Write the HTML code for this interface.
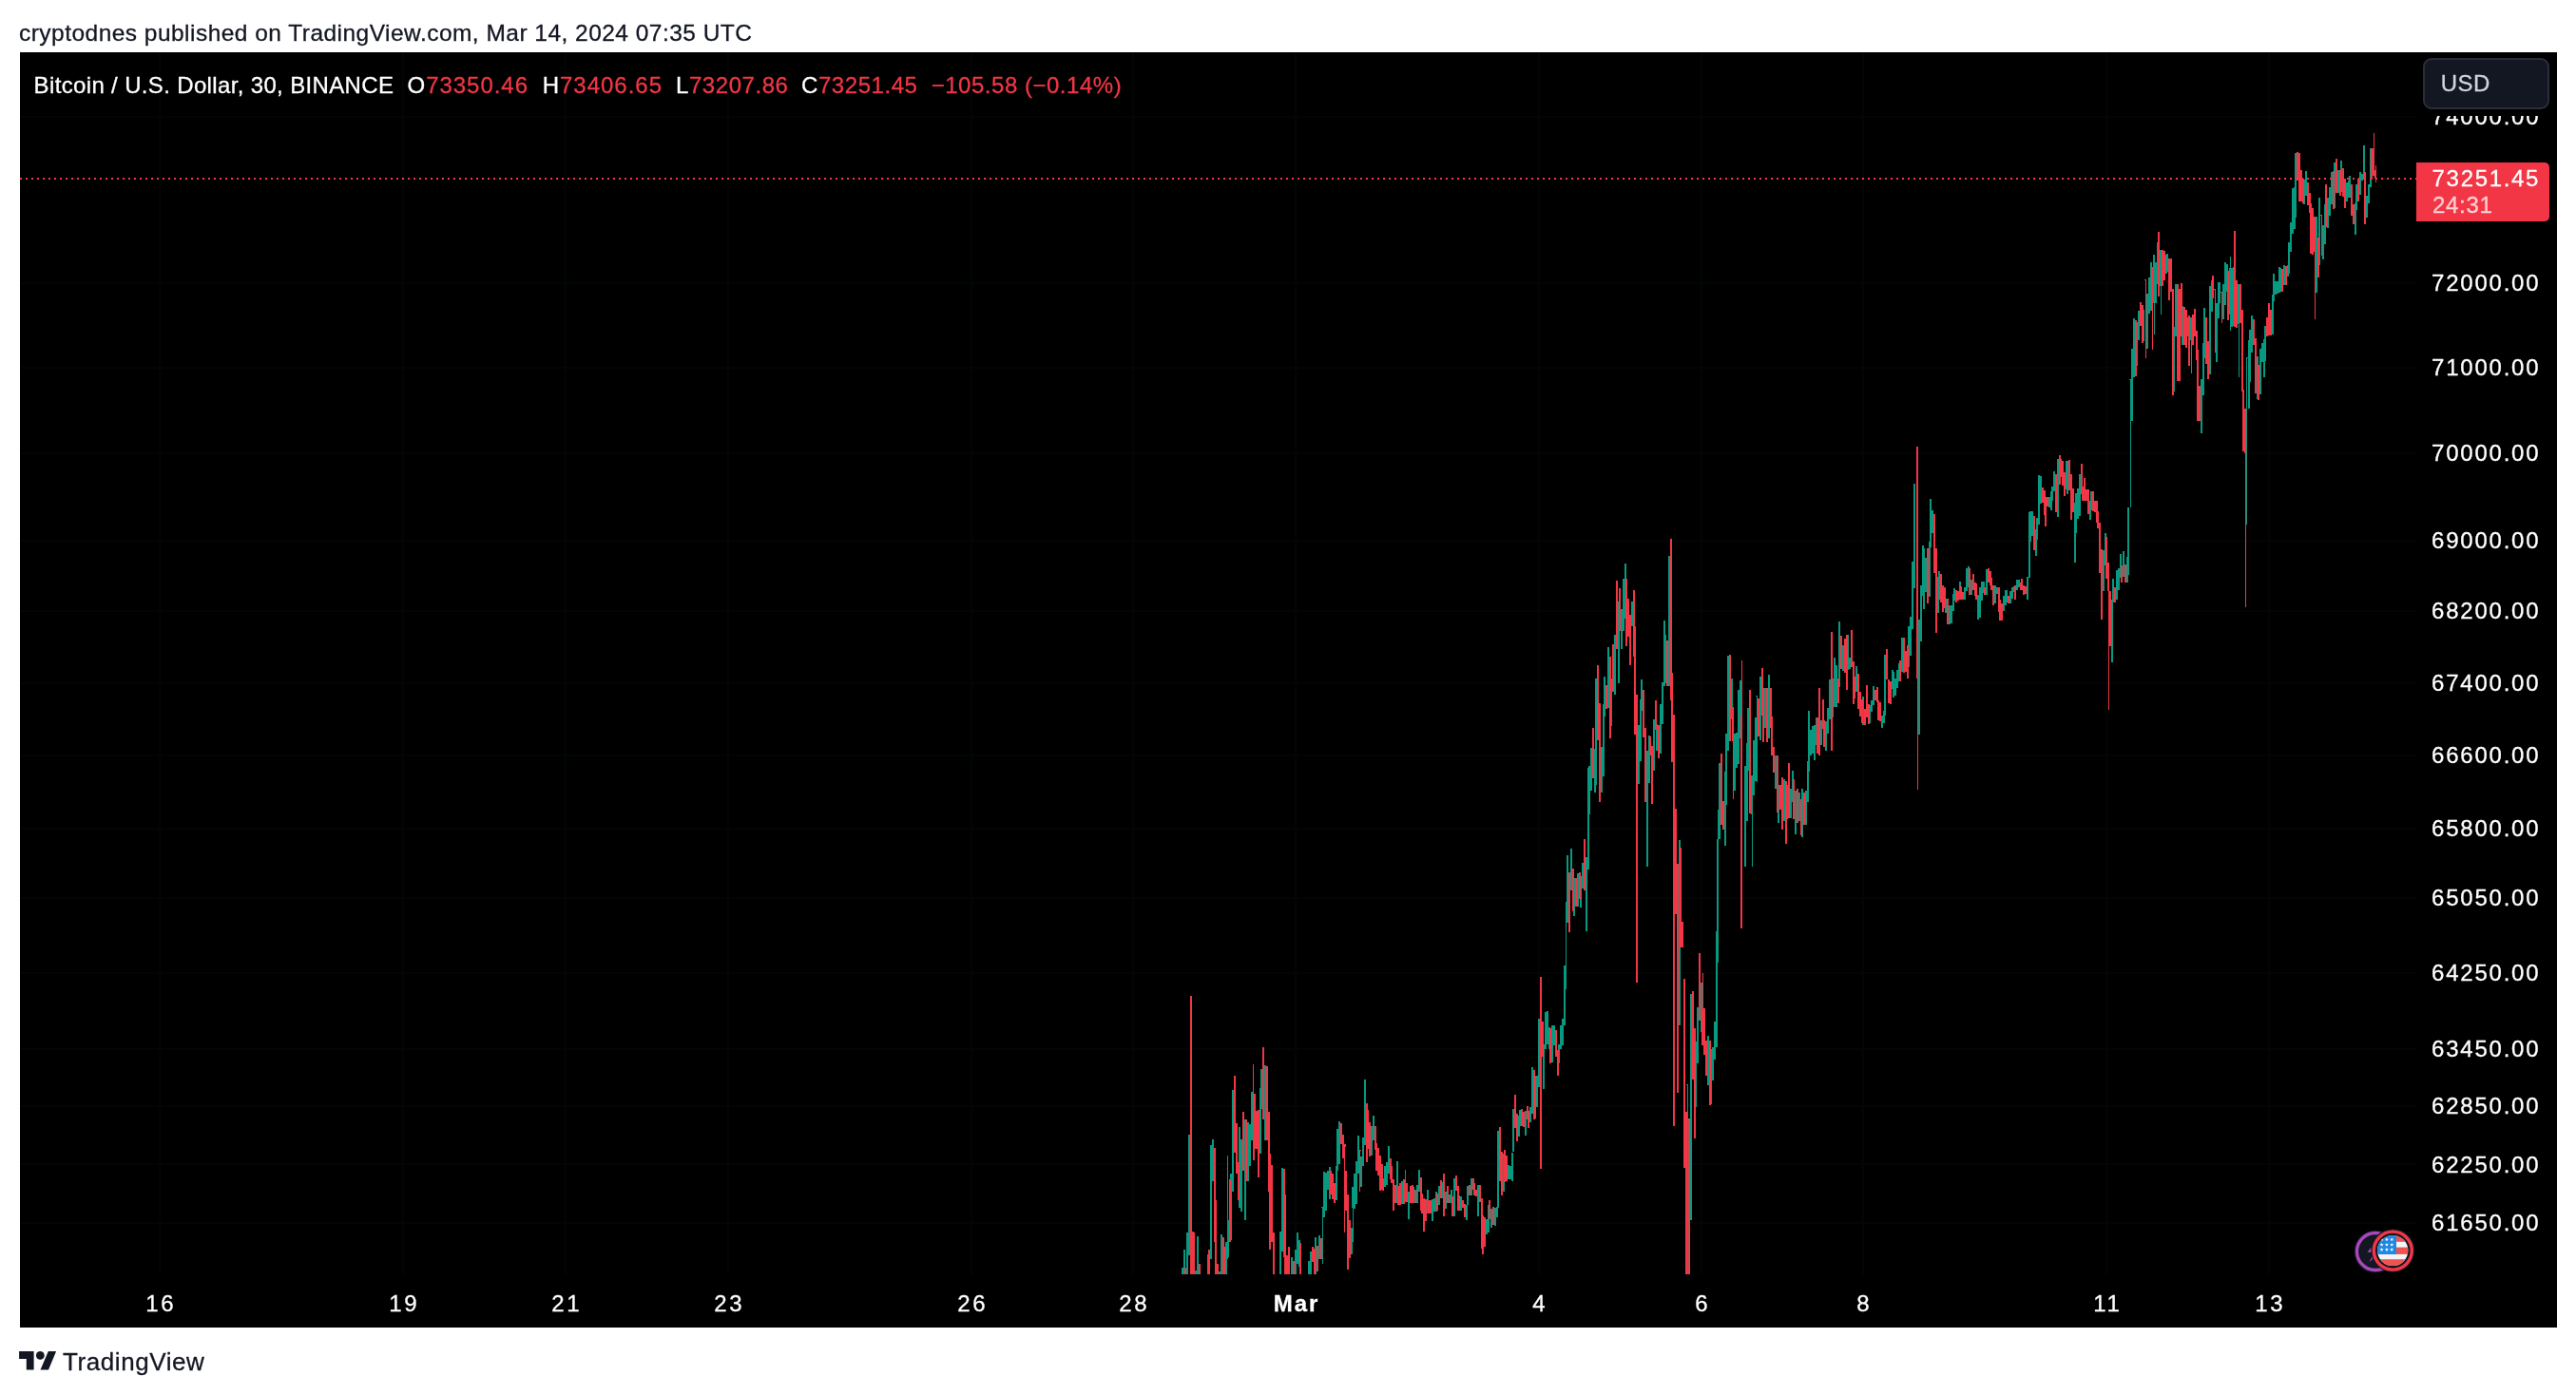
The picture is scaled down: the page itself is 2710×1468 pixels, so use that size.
<!DOCTYPE html>
<html lang="en">
<head>
<meta charset="utf-8">
<title>Bitcoin / U.S. Dollar chart</title>
<style>
html,body{margin:0;padding:0;background:#fff;}
body{width:2710px;height:1468px;position:relative;overflow:hidden;font-family:"Liberation Sans",Arial,sans-serif;color:#131722;}
.hdr,.legend,.usd,.pl,.tl,.plab,.brand{will-change:transform;-webkit-text-stroke:0.3px currentColor;}
.hdr{position:absolute;left:19.6px;top:20.4px;font-size:24.5px;line-height:30px;white-space:nowrap;color:#131722;letter-spacing:0.47px;}
.chart{position:absolute;left:20.5px;top:54.5px;width:2669px;height:1342.5px;background:#000;}
.legend{position:absolute;left:0;top:74.6px;font-size:24px;line-height:30px;white-space:nowrap;color:#fff;}
.legend span{position:absolute;top:0;}
.legend .r{color:#f23645;font-weight:normal;}
.usd{position:absolute;left:2549.4px;top:61.1px;width:129.1px;height:49.8px;border:2px solid #2a2e39;border-radius:9px;background:#131722;color:#d1d4dc;font-size:24px;line-height:50px;}
.usd span{position:absolute;left:16.8px;top:0.2px;letter-spacing:0.45px;}
.pl{position:absolute;left:2558.3px;width:112px;height:30px;line-height:30px;font-size:24px;color:#fff;letter-spacing:1.78px;white-space:nowrap;}
.tl{position:absolute;top:1357px;width:120px;height:30px;line-height:30px;text-align:center;font-size:24px;color:#fff;letter-spacing:2.6px;text-indent:2.6px;white-space:nowrap;}
.tl.b{font-weight:bold;letter-spacing:2px;text-indent:2px;}
.plab{position:absolute;left:2542px;top:171px;width:140px;height:62px;background:#f23645;border-radius:0 5px 5px 0;color:#fff;font-size:24px;}
.plab .p{position:absolute;left:16.6px;top:2.3px;line-height:30px;letter-spacing:1.68px;}
.plab .t{position:absolute;left:17px;top:30.4px;line-height:30px;letter-spacing:0.7px;color:rgba(255,255,255,0.72);}
svg.layer{position:absolute;left:0;top:0;}
.brand{position:absolute;left:65.7px;top:1416.5px;font-size:26px;line-height:32px;color:#131722;letter-spacing:0.58px;}
</style>
</head>
<body>
<div class="hdr">cryptodnes published on TradingView.com, Mar 14, 2024 07:35 UTC</div>
<div class="chart"></div>
<svg class="layer" width="2710" height="1468" viewBox="0 0 2710 1468">
<g stroke="#030505" stroke-width="2" fill="none">
<path d="M21 123H2542"/>
<path d="M21 298H2542"/>
<path d="M21 387H2542"/>
<path d="M21 477H2542"/>
<path d="M21 569H2542"/>
<path d="M21 643H2542"/>
<path d="M21 719H2542"/>
<path d="M21 795H2542"/>
<path d="M21 872H2542"/>
<path d="M21 945H2542"/>
<path d="M21 1024H2542"/>
<path d="M21 1104H2542"/>
<path d="M21 1164H2542"/>
<path d="M21 1225H2542"/>
<path d="M21 1287H2542"/>
<path d="M168 55V1341"/>
<path d="M424 55V1341"/>
<path d="M595 55V1341"/>
<path d="M766 55V1341"/>
<path d="M1022 55V1341"/>
<path d="M1192 55V1341"/>
<path d="M1363 55V1341"/>
<path d="M1619 55V1341"/>
<path d="M1790 55V1341"/>
<path d="M1960 55V1341"/>
<path d="M2216 55V1341"/>
<path d="M2387 55V1341"/>
</g>
<g shape-rendering="crispEdges">
<path d="M1243.9 1334.2V1341.0M1245.7 1314.8V1341.0M1249.2 1296.8V1341.0M1251.0 1193.5V1321.3M1258.1 1336.8V1341.0M1259.9 1300.6V1341.0M1274.1 1205.2V1325.2M1275.9 1198.7V1242.6M1283.0 1338.1V1341.0M1284.8 1299.4V1341.0M1290.1 1307.1V1341.0M1291.9 1215.5V1325.2M1295.4 1234.8V1304.5M1297.2 1147.1V1254.2M1304.3 1185.8V1271.0M1306.1 1198.7V1274.8M1309.7 1178.1V1283.9M1313.2 1180.6V1242.6M1315.0 1183.2V1227.1M1316.8 1149.2V1200.0M1325.7 1144.5V1214.2M1327.4 1125.2V1166.5M1331.0 1120.8V1200.0M1347.0 1295.5V1341.0M1348.8 1228.9V1317.4M1359.4 1322.6V1341.0M1363.0 1314.8V1341.0M1364.8 1296.8V1330.3M1366.6 1304.5V1332.9M1377.2 1326.5V1341.0M1379.0 1317.4V1341.0M1384.3 1301.9V1341.0M1387.9 1299.9V1325.2M1391.4 1269.7V1330.3M1393.2 1233.0V1281.3M1395.0 1233.5V1273.5M1396.8 1232.3V1251.6M1398.6 1228.4V1261.9M1405.7 1227.1V1263.2M1407.4 1188.4V1232.3M1409.2 1179.9V1224.5M1421.7 1291.6V1320.0M1423.4 1249.0V1307.1M1425.2 1235.4V1272.3M1427.0 1221.9V1267.1M1428.8 1194.8V1234.8M1432.3 1216.8V1249.0M1434.1 1197.4V1227.1M1435.9 1136.0V1205.2M1443.0 1184.5V1215.5M1444.8 1174.2V1200.0M1457.2 1227.1V1249.0M1459.0 1223.2V1246.5M1460.8 1205.9V1234.8M1469.7 1221.9V1265.8M1475.0 1242.6V1267.1M1478.6 1230.5V1264.5M1482.1 1254.2V1282.6M1487.4 1249.0V1265.8M1491.0 1246.5V1265.8M1492.8 1231.0V1254.2M1501.7 1251.6V1277.4M1507.0 1261.9V1285.2M1508.8 1260.6V1274.8M1510.6 1254.2V1274.8M1514.1 1247.7V1268.4M1517.7 1243.9V1260.6M1521.2 1254.2V1272.3M1524.8 1256.8V1265.8M1526.6 1251.6V1265.8M1530.1 1240.0V1280.0M1537.2 1259.4V1273.5M1542.6 1268.4V1283.9M1544.3 1247.7V1268.4M1547.9 1240.0V1258.1M1555.0 1246.5V1280.0M1563.9 1282.6V1299.4M1565.7 1268.4V1296.8M1569.2 1272.3V1291.6M1572.8 1271.0V1290.3M1574.6 1269.7V1281.3M1576.3 1189.7V1271.0M1581.7 1214.2V1254.2M1587.0 1225.8V1241.3M1588.8 1227.1V1241.3M1590.6 1212.9V1242.6M1592.3 1167.2V1211.6M1597.7 1174.2V1196.1M1599.4 1167.7V1184.5M1604.8 1169.0V1194.8M1610.1 1165.2V1180.6M1611.9 1123.4V1171.6M1617.2 1131.6V1165.2M1619.0 1072.2V1143.7M1624.3 1098.5V1146.3M1626.1 1065.0V1103.7M1627.9 1064.0V1098.5M1629.7 1080.5V1103.7M1633.2 1079.2V1117.9M1635.0 1079.2V1099.8M1640.3 1098.5V1119.2M1642.1 1079.2V1103.7M1643.9 1072.2V1099.8M1645.7 1016.0V1079.2M1647.4 948.9V1040.5M1649.2 899.8V970.8M1652.8 893.4V937.3M1656.3 924.4V964.4M1659.9 919.2V954.0M1663.4 921.8V955.3M1665.2 907.6V934.7M1668.8 902.4V979.8M1670.6 808.2V915.3M1672.3 805.6V857.3M1674.1 787.1V831.5M1677.7 787.6V834.0M1679.4 714.0V826.3M1684.8 786.3V834.0M1686.6 741.1V817.3M1688.3 712.2V754.0M1691.9 681.3V745.0M1695.4 714.0V764.4M1699.0 667.6V731.3M1702.6 632.7V719.2M1706.1 640.5V683.1M1707.9 609.0V663.7M1709.7 593.0V650.8M1716.8 632.7V658.5M1723.9 763.1V825.0M1725.7 736.0V800.5M1727.4 715.3V747.6M1732.8 790.2V912.2M1734.6 774.2V823.7M1739.9 757.4V810.8M1743.4 761.8V790.2M1747.0 741.1V792.7M1748.8 718.4V761.8M1750.6 652.9V721.8M1752.3 667.6V719.2M1755.9 585.0V721.8M1766.6 884.4V1079.2M1775.4 1141.1V1341.0M1779.0 1045.6V1283.8M1784.3 1096.0V1164.9M1786.1 1059.8V1118.7M1789.7 1034.0V1085.6M1796.8 1090.3V1141.9M1800.3 1103.7V1161.8M1802.1 1102.4V1137.3M1803.9 1075.3V1115.3M1805.7 979.8V1102.4M1807.4 852.1V1013.4M1809.2 803.1V883.1M1814.6 812.1V889.5M1816.3 772.1V846.9M1818.1 690.0V790.2M1821.7 714.0V756.6M1825.2 772.1V831.5M1827.0 770.8V808.2M1828.8 725.6V804.4M1830.6 715.8V777.3M1835.9 805.6V911.5M1837.7 782.4V863.7M1839.4 745.0V810.8M1843.0 816.0V911.5M1844.8 778.5V836.6M1846.6 755.3V822.4M1848.3 732.1V822.9M1851.9 712.2V779.3M1857.2 724.4V765.6M1860.8 710.2V777.3M1867.9 795.3V830.2M1871.4 826.3V866.3M1876.8 819.8V863.7M1880.3 826.3V862.4M1883.9 830.2V861.1M1885.7 810.8V844.4M1889.2 831.5V877.9M1892.8 834.0V863.7M1896.3 830.2V880.5M1899.9 831.5V867.6M1901.7 800.5V844.4M1903.4 748.4V812.1M1905.2 768.2V795.3M1907.0 764.4V792.7M1908.8 763.1V800.0M1910.6 755.3V783.7M1915.9 757.9V783.7M1921.2 759.2V790.2M1923.0 745.0V772.1M1924.8 714.8V756.6M1928.3 714.0V755.3M1930.1 691.6V743.7M1931.9 699.8V743.7M1935.4 653.9V722.5M1939.0 679.2V706.3M1944.3 667.6V705.0M1946.1 692.1V703.7M1953.2 701.1V728.2M1960.3 733.4V763.1M1967.4 742.4V760.5M1969.2 737.3V748.9M1971.0 721.8V742.4M1979.9 752.7V766.4M1981.7 747.6V760.5M1983.4 689.0V752.7M1990.6 704.5V725.2M1992.3 707.1V734.2M1994.1 713.5V731.6M1995.9 704.5V723.9M1997.7 698.1V717.4M2001.2 671.0V707.1M2008.3 659.4V701.9M2010.1 649.0V690.3M2011.9 591.0V661.9M2013.7 509.2V619.4M2019.0 651.6V772.9M2020.8 615.5V674.8M2022.6 574.2V627.1M2024.3 576.8V641.3M2026.1 587.1V623.2M2029.7 570.3V628.4M2031.4 524.6V575.5M2033.2 536.8V561.3M2038.6 606.5V645.2M2040.3 601.3V631.0M2047.4 629.7V645.2M2051.0 637.4V656.8M2052.8 637.4V655.5M2054.6 624.5V642.6M2056.3 619.4V632.3M2061.7 612.4V631.0M2067.0 618.1V631.0M2068.8 597.9V621.9M2070.6 596.1V618.1M2074.1 610.3V625.8M2081.2 625.8V651.6M2083.0 618.1V650.3M2084.8 611.6V632.3M2086.6 612.4V623.7M2090.1 598.7V625.8M2099.0 615.5V634.8M2100.8 618.1V624.5M2107.9 627.1V642.6M2109.7 620.6V637.4M2111.4 620.6V633.5M2115.0 621.9V634.8M2116.8 618.1V629.7M2118.6 616.8V623.2M2122.1 610.3V620.6M2123.9 610.3V618.1M2132.8 606.5V631.0M2134.6 539.4V607.7M2136.3 538.1V570.3M2138.1 538.1V563.9M2141.7 557.4V584.5M2143.4 544.5V567.7M2145.2 499.9V552.3M2147.0 500.6V530.3M2155.9 522.6V534.2M2157.7 517.4V536.8M2159.4 512.3V526.5M2161.2 495.5V517.4M2164.8 482.6V543.7M2173.7 485.2V514.8M2175.4 485.2V520.0M2182.6 529.0V591.7M2184.3 518.7V561.3M2186.1 513.5V545.8M2187.9 499.4V543.2M2198.6 526.5V547.1M2200.3 517.4V536.8M2212.8 579.4V621.9M2214.6 561.3V594.8M2221.7 631.0V696.8M2223.4 609.0V633.5M2227.0 600.0V631.0M2228.8 597.9V620.6M2230.6 583.2V607.7M2234.1 580.1V606.5M2237.7 585.8V612.9M2239.4 534.2V605.2M2241.2 399.4V534.1M2243.0 367.1V443.2M2244.8 334.8V396.8M2248.3 338.7V385.2M2250.1 327.1V358.1M2255.4 325.8V359.4M2259.0 309.0V367.1M2260.8 292.3V329.7M2262.6 275.5V327.1M2266.1 267.7V351.6M2267.9 275.5V319.4M2269.7 254.8V298.7M2273.2 262.6V331.0M2278.6 267.7V288.4M2280.3 267.2V285.8M2287.4 343.9V412.3M2289.2 298.7V354.2M2296.3 321.9V363.2M2305.2 333.5V392.9M2315.9 399.4V456.1M2317.7 360.6V416.1M2319.4 324.0V377.4M2324.8 301.3V394.2M2326.6 294.8V328.4M2331.9 319.4V381.3M2333.7 296.6V334.8M2335.4 297.4V319.4M2339.0 298.7V336.1M2340.8 276.0V320.6M2342.6 278.1V306.5M2346.1 270.3V347.7M2347.9 281.9V343.9M2349.7 280.6V342.6M2355.0 298.7V396.8M2363.9 376.1V552.1M2365.7 358.1V430.3M2367.4 346.5V401.9M2369.2 332.3V371.0M2374.6 374.8V420.0M2378.1 367.1V414.8M2379.9 360.6V381.3M2381.7 356.8V396.8M2383.4 342.6V380.0M2390.6 310.3V351.6M2392.3 288.4V316.8M2394.1 296.1V310.3M2395.9 296.1V309.0M2397.7 280.6V307.7M2399.4 281.9V306.5M2403.0 279.4V300.0M2406.6 279.4V291.0M2408.3 254.8V288.4M2410.1 234.2V265.2M2411.9 197.5V245.8M2413.7 196.8V240.6M2415.4 161.2V229.0M2424.3 189.0V214.8M2426.1 180.0V205.8M2436.8 227.5V307.5M2440.3 207.9V279.4M2443.9 236.5V272.6M2445.7 214.6V256.6M2449.2 208.1V240.4M2451.0 196.8V226.5M2452.8 180.5V214.8M2456.3 171.0V218.7M2459.9 178.7V203.2M2463.4 169.2V201.9M2468.8 191.6V212.3M2470.6 190.3V208.4M2472.3 185.2V208.4M2477.7 213.5V246.6M2479.4 194.2V221.3M2483.0 181.3V204.5M2484.8 182.6V190.3M2486.6 152.9V189.0M2490.1 205.8V229.0M2491.9 194.2V213.5M2493.7 156.3V196.8" stroke="#089981" stroke-width="1" fill="none"/>
<path d="M1247.4 1334.2V1341.0M1252.8 1047.7V1341.0M1254.6 1295.5V1341.0M1256.3 1296.8V1341.0M1261.7 1330.3V1341.0M1270.6 1320.0V1341.0M1272.3 1314.8V1341.0M1277.7 1207.7V1307.1M1279.4 1263.2V1341.0M1281.2 1330.3V1341.0M1286.6 1301.9V1341.0M1288.3 1312.3V1341.0M1293.7 1241.3V1307.1M1299.0 1131.6V1212.9M1300.8 1181.9V1234.8M1302.6 1223.2V1263.2M1307.9 1170.3V1232.3M1311.4 1178.1V1242.6M1318.6 1120.0V1220.6M1320.3 1151.0V1209.0M1322.1 1169.0V1209.0M1323.9 1167.7V1238.7M1329.2 1101.9V1178.1M1332.8 1121.8V1200.0M1334.6 1170.3V1254.2M1336.3 1214.2V1314.8M1338.1 1225.8V1307.1M1339.9 1296.8V1341.0M1350.6 1229.7V1322.6M1352.3 1256.8V1341.0M1354.1 1321.3V1341.0M1355.9 1312.3V1341.0M1361.2 1326.5V1341.0M1368.3 1308.4V1341.0M1380.8 1312.3V1327.7M1382.6 1313.5V1341.0M1386.1 1311.0V1338.1M1389.7 1303.2V1325.2M1400.3 1232.3V1256.8M1402.1 1235.4V1261.9M1403.9 1245.2V1265.8M1411.0 1181.9V1203.9M1412.8 1193.5V1219.4M1414.6 1203.9V1296.8M1416.3 1232.3V1273.5M1418.1 1256.8V1335.5M1419.9 1283.9V1323.9M1430.6 1210.3V1254.2M1437.7 1161.3V1223.2M1439.4 1167.7V1209.0M1441.2 1180.6V1216.8M1446.6 1184.5V1210.3M1448.3 1202.6V1232.3M1450.1 1207.7V1237.4M1451.9 1215.5V1252.9M1453.7 1224.5V1251.6M1455.4 1240.0V1252.9M1462.6 1219.4V1241.3M1464.3 1227.1V1245.2M1466.1 1241.3V1273.5M1467.9 1246.5V1265.8M1471.4 1247.7V1268.4M1473.2 1245.2V1268.4M1476.8 1241.3V1267.1M1480.3 1245.2V1264.5M1483.9 1247.7V1265.8M1485.7 1246.5V1265.8M1489.2 1251.6V1265.8M1494.6 1238.7V1273.5M1496.3 1255.5V1277.4M1498.1 1260.6V1295.5M1499.9 1261.9V1285.2M1503.4 1263.2V1277.4M1505.2 1263.2V1277.4M1512.3 1255.5V1273.5M1515.9 1241.8V1260.6M1519.4 1234.8V1280.0M1523.0 1247.7V1265.8M1528.3 1259.4V1280.0M1531.9 1237.4V1252.9M1533.7 1247.7V1273.5M1535.4 1258.1V1273.5M1539.0 1263.2V1271.0M1540.8 1267.1V1281.3M1546.1 1246.5V1258.1M1549.7 1240.0V1251.6M1551.4 1245.2V1258.1M1553.2 1251.6V1259.4M1556.8 1246.5V1264.5M1558.6 1260.6V1313.5M1560.3 1278.7V1320.0M1562.1 1281.3V1312.3M1567.4 1263.2V1282.6M1571.0 1269.7V1289.0M1578.1 1185.8V1242.6M1579.9 1211.6V1258.1M1583.4 1210.3V1243.9M1585.2 1215.5V1242.6M1594.1 1152.3V1187.1M1595.9 1171.6V1201.3M1601.2 1167.2V1184.5M1603.0 1170.3V1185.8M1606.6 1163.9V1178.1M1608.3 1169.0V1187.1M1613.7 1125.9V1178.1M1615.4 1131.6V1176.8M1620.8 1028.4V1230.2M1622.6 1075.3V1111.5M1631.4 1081.8V1119.2M1636.8 1084.4V1111.5M1638.6 1105.0V1131.6M1651.0 917.9V981.1M1654.6 914.0V959.2M1658.1 924.4V954.0M1661.7 917.9V946.3M1667.0 883.1V937.3M1675.9 766.2V818.5M1681.2 700.4V778.5M1683.0 739.8V843.8M1690.1 720.5V746.3M1693.7 690.8V776.7M1697.2 678.4V728.2M1700.8 611.1V683.1M1704.3 619.1V663.7M1711.4 609.0V679.7M1713.2 630.2V670.2M1715.0 646.9V699.8M1718.6 621.1V690.8M1720.3 658.5V773.4M1722.1 730.8V1033.5M1729.2 726.2V776.0M1731.0 765.6V843.8M1736.3 774.7V795.3M1738.1 785.0V845.6M1741.7 737.3V768.2M1745.2 763.1V798.4M1754.1 674.0V721.8M1757.7 566.9V736.5M1759.4 708.1V801.8M1761.2 752.0V1184.5M1763.0 850.8V961.8M1764.8 908.9V1150.2M1768.3 892.1V996.9M1770.1 969.5V996.9M1771.9 1030.2V1228.9M1773.7 1169.5V1341.0M1777.2 1177.3V1341.0M1780.8 1043.1V1136.0M1782.6 1081.8V1197.9M1787.9 1003.1V1074.0M1791.4 1023.7V1099.8M1793.2 1061.1V1110.2M1795.0 1094.7V1132.1M1798.6 1094.7V1163.1M1811.0 792.7V867.6M1812.8 843.1V872.7M1819.9 689.0V779.8M1823.4 743.7V840.5M1832.3 694.7V977.3M1841.2 726.2V856.0M1850.1 734.7V774.7M1853.7 702.9V752.7M1855.4 724.4V781.1M1859.0 724.4V781.1M1862.6 723.8V765.6M1864.3 754.0V795.3M1866.1 786.3V812.9M1869.7 795.3V854.7M1873.2 825.8V852.1M1875.0 818.0V872.7M1878.6 822.4V887.7M1882.1 803.1V861.1M1887.4 819.8V861.9M1891.0 830.2V865.5M1894.6 840.5V879.2M1898.1 834.0V867.6M1912.3 755.3V792.7M1914.1 724.4V795.3M1917.7 736.0V766.9M1919.4 757.9V786.3M1926.6 665.0V790.2M1933.7 714.0V739.8M1937.2 668.9V703.7M1940.8 671.5V707.6M1942.6 667.6V725.6M1947.9 663.2V702.4M1949.7 696.0V741.1M1951.4 711.5V734.7M1955.0 708.9V746.3M1956.8 728.2V754.0M1958.6 736.0V760.5M1962.1 746.3V763.1M1963.9 721.3V755.3M1965.7 741.1V761.8M1972.8 725.6V737.3M1974.6 723.1V738.5M1976.3 737.3V757.9M1978.1 738.5V759.2M1985.2 683.1V715.3M1987.0 715.3V739.8M1988.8 717.4V740.6M1999.4 695.0V717.4M2003.0 671.0V708.4M2004.8 685.2V707.1M2006.6 678.7V713.5M2017.2 470.2V831.0M2027.9 576.8V634.8M2035.0 541.2V602.6M2036.8 576.8V665.8M2042.1 603.9V633.5M2043.9 615.5V643.9M2045.7 618.1V640.0M2049.2 629.7V656.8M2058.1 620.6V633.5M2059.9 621.9V632.3M2063.4 616.8V630.5M2065.2 623.2V631.0M2072.3 597.9V625.8M2075.9 603.9V620.6M2077.7 612.9V627.1M2079.4 614.2V631.0M2088.3 618.1V625.8M2091.9 597.9V612.9M2093.7 601.3V615.5M2095.4 607.7V620.6M2097.2 615.5V637.4M2102.6 618.1V643.9M2104.3 631.0V652.9M2106.1 634.8V652.9M2113.2 627.1V634.8M2120.3 615.5V631.0M2125.7 612.9V620.6M2127.4 609.0V620.6M2129.2 615.5V625.8M2131.0 616.8V624.5M2139.9 543.2V579.4M2148.8 513.0V529.0M2150.6 516.1V541.9M2152.3 522.6V553.5M2154.1 522.6V532.9M2163.0 499.4V539.4M2166.6 478.7V509.7M2168.3 482.6V501.9M2170.1 485.2V511.0M2171.9 496.8V522.1M2177.2 483.9V516.1M2179.0 499.4V547.1M2180.8 513.5V539.4M2189.7 487.7V520.0M2191.4 512.3V526.5M2193.2 503.2V526.5M2195.0 514.8V526.5M2196.8 514.8V540.6M2202.1 517.4V538.1M2203.9 526.5V539.4M2205.7 526.5V549.7M2207.4 538.1V556.1M2209.2 549.7V602.6M2211.0 578.1V651.6M2216.3 565.2V609.0M2218.1 592.3V747.1M2219.9 621.9V680.0M2225.2 618.1V633.5M2232.3 594.8V612.9M2235.9 593.5V612.9M2246.6 337.4V395.5M2251.9 318.1V342.6M2253.7 320.6V360.6M2257.2 293.5V377.4M2264.3 280.6V368.4M2271.4 244.0V311.6M2275.0 263.1V301.3M2276.8 263.9V294.8M2282.1 271.6V315.5M2283.9 271.6V306.5M2285.7 303.9V416.1M2291.0 298.7V400.6M2292.8 303.9V400.6M2294.6 298.2V354.2M2298.1 323.2V363.2M2299.9 325.8V365.8M2301.7 333.5V354.2M2303.4 332.3V385.2M2307.0 331.0V363.2M2308.8 325.0V354.2M2310.6 347.7V378.7M2312.3 368.4V443.2M2314.1 405.8V443.2M2321.2 333.5V382.6M2323.0 359.4V399.4M2328.3 289.7V314.2M2330.1 303.9V371.0M2337.2 306.5V340.0M2344.3 284.5V337.4M2351.4 243.2V343.9M2353.2 294.8V345.2M2356.8 298.7V340.0M2358.6 325.8V412.3M2360.3 409.7V474.7M2362.1 430.3V638.6M2371.0 336.1V363.2M2372.8 355.5V413.5M2376.3 383.9V421.3M2385.2 333.5V354.2M2387.0 319.4V352.9M2388.8 325.8V352.9M2401.2 283.2V306.5M2404.8 280.1V300.0M2417.2 159.9V190.3M2419.0 160.6V212.3M2420.8 178.7V212.3M2422.6 187.7V213.5M2427.9 191.6V216.1M2429.7 203.2V223.9M2431.4 213.5V266.5M2433.2 218.7V267.7M2435.0 227.7V336.1M2438.6 249.7V292.3M2442.1 225.9V268.8M2447.4 193.7V238.8M2454.6 180.0V220.0M2458.1 167.1V203.2M2461.7 178.7V205.8M2465.2 177.4V207.1M2467.0 187.7V218.7M2474.1 194.2V226.5M2475.9 214.8V235.5M2481.2 187.7V212.3M2488.3 181.3V235.5M2495.4 155.5V189.0M2497.2 140.0V185.2M2499.0 174.3V191.6" stroke="#f23645" stroke-width="1" fill="none"/>
<path d="M1243.9 1334.2V1341.0M1245.7 1314.8V1341.0M1249.2 1296.8V1341.0M1251.0 1193.5V1321.3M1258.1 1336.8V1341.0M1259.9 1300.6V1341.0M1274.1 1205.2V1325.2M1275.9 1198.7V1242.6M1283.0 1338.1V1341.0M1284.8 1299.4V1341.0M1290.1 1307.1V1341.0M1291.9 1283.9V1322.6M1295.4 1234.8V1304.5M1297.2 1147.1V1254.2M1304.3 1185.8V1271.0M1306.1 1198.7V1274.8M1309.7 1178.1V1283.9M1313.2 1180.6V1242.6M1315.0 1183.2V1227.1M1316.8 1149.2V1200.0M1325.7 1144.5V1214.2M1327.4 1125.2V1166.5M1331.0 1120.8V1200.0M1347.0 1295.5V1341.0M1348.8 1228.9V1317.4M1359.4 1322.6V1341.0M1363.0 1314.8V1341.0M1364.8 1296.8V1330.3M1366.6 1304.5V1332.9M1377.2 1326.5V1341.0M1379.0 1317.4V1341.0M1384.3 1301.9V1341.0M1387.9 1299.9V1325.2M1391.4 1269.7V1270.7M1393.2 1233.0V1281.3M1395.0 1233.5V1273.5M1396.8 1232.3V1251.6M1398.6 1228.4V1261.9M1405.7 1227.1V1263.2M1407.4 1188.4V1232.3M1409.2 1179.9V1224.5M1421.7 1291.6V1320.0M1423.4 1249.0V1271.0M1425.2 1235.4V1272.3M1427.0 1221.9V1267.1M1428.8 1194.8V1234.8M1432.3 1216.8V1249.0M1434.1 1197.4V1227.1M1435.9 1136.0V1205.2M1443.0 1184.5V1215.5M1444.8 1174.2V1200.0M1457.2 1227.1V1249.0M1459.0 1223.2V1246.5M1460.8 1205.9V1234.8M1469.7 1221.9V1265.8M1475.0 1242.6V1267.1M1478.6 1247.7V1264.5M1482.1 1254.2V1282.6M1487.4 1249.0V1265.8M1491.0 1246.5V1265.8M1492.8 1231.0V1254.2M1501.7 1251.6V1277.4M1507.0 1261.9V1285.2M1508.8 1260.6V1274.8M1510.6 1254.2V1274.8M1514.1 1247.7V1268.4M1517.7 1243.9V1260.6M1521.2 1254.2V1272.3M1524.8 1256.8V1265.8M1526.6 1251.6V1265.8M1530.1 1240.0V1280.0M1537.2 1259.4V1273.5M1542.6 1268.4V1283.9M1544.3 1247.7V1268.4M1547.9 1240.0V1258.1M1555.0 1246.5V1280.0M1563.9 1282.6V1299.4M1565.7 1268.4V1296.8M1569.2 1272.3V1291.6M1572.8 1271.0V1290.3M1574.6 1269.7V1281.3M1576.3 1189.7V1271.0M1581.7 1214.2V1254.2M1587.0 1225.8V1241.3M1588.8 1227.1V1241.3M1590.6 1212.9V1242.6M1592.3 1167.2V1211.6M1597.7 1174.2V1196.1M1599.4 1167.7V1184.5M1604.8 1169.0V1194.8M1610.1 1165.2V1180.6M1611.9 1123.4V1171.6M1617.2 1131.6V1165.2M1619.0 1072.2V1143.7M1624.3 1098.5V1146.3M1626.1 1065.0V1103.7M1627.9 1064.0V1098.5M1629.7 1080.5V1103.7M1633.2 1079.2V1117.9M1635.0 1079.2V1099.8M1640.3 1098.5V1119.2M1642.1 1079.2V1103.7M1643.9 1072.2V1099.8M1645.7 1016.0V1079.2M1647.4 1016.0V1040.5M1649.2 899.8V970.8M1652.8 893.4V937.3M1656.3 924.4V964.4M1659.9 919.2V954.0M1663.4 921.8V955.3M1665.2 907.6V934.7M1668.8 902.4V979.8M1670.6 808.2V915.3M1672.3 805.6V857.3M1674.1 787.1V831.5M1677.7 787.6V834.0M1679.4 714.0V826.3M1684.8 786.3V834.0M1686.6 741.1V817.3M1688.3 712.2V754.0M1691.9 681.3V745.0M1695.4 714.0V764.4M1699.0 667.6V731.3M1702.6 632.7V719.2M1706.1 640.5V683.1M1707.9 609.0V663.7M1709.7 593.0V650.8M1716.8 632.7V658.5M1723.9 763.1V825.0M1725.7 736.0V800.5M1727.4 715.3V747.6M1732.8 790.2V912.2M1734.6 774.2V823.7M1739.9 757.4V810.8M1743.4 761.8V790.2M1747.0 741.1V792.7M1748.8 718.4V761.8M1750.6 652.9V721.8M1752.3 667.6V719.2M1755.9 585.0V721.8M1766.6 884.4V1079.2M1775.4 1141.1V1142.1M1779.0 1045.6V1283.8M1784.3 1096.0V1097.0M1786.1 1059.8V1118.7M1789.7 1034.0V1085.6M1796.8 1090.3V1141.9M1800.3 1103.7V1161.8M1802.1 1102.4V1137.3M1803.9 1075.3V1115.3M1805.7 979.8V1102.4M1807.4 883.1V1013.4M1809.2 803.1V883.1M1814.6 812.1V889.5M1816.3 772.1V846.9M1818.1 690.0V790.2M1821.7 714.0V756.6M1825.2 772.1V831.5M1827.0 770.8V808.2M1828.8 725.6V804.4M1830.6 715.8V777.3M1835.9 805.6V911.5M1837.7 782.4V863.7M1839.4 745.0V810.8M1843.0 816.0V857.3M1844.8 778.5V836.6M1846.6 755.3V822.4M1848.3 732.1V733.1M1851.9 712.2V779.3M1857.2 724.4V765.6M1860.8 710.2V777.3M1867.9 795.3V830.2M1871.4 826.3V866.3M1876.8 819.8V863.7M1880.3 826.3V862.4M1883.9 830.2V861.1M1885.7 810.8V844.4M1889.2 831.5V877.9M1892.8 834.0V863.7M1896.3 830.2V880.5M1899.9 831.5V867.6M1901.7 800.5V844.4M1903.4 748.4V812.1M1905.2 768.2V795.3M1907.0 764.4V792.7M1908.8 763.1V800.0M1910.6 755.3V783.7M1915.9 757.9V783.7M1921.2 759.2V790.2M1923.0 745.0V772.1M1924.8 714.8V756.6M1928.3 714.0V755.3M1930.1 691.6V743.7M1931.9 699.8V743.7M1935.4 653.9V722.5M1939.0 679.2V706.3M1944.3 667.6V705.0M1946.1 692.1V703.7M1953.2 701.1V728.2M1960.3 733.4V763.1M1967.4 742.4V760.5M1969.2 737.3V748.9M1971.0 721.8V742.4M1979.9 752.7V766.4M1981.7 747.6V760.5M1983.4 689.0V752.7M1990.6 704.5V725.2M1992.3 707.1V734.2M1994.1 713.5V731.6M1995.9 704.5V723.9M1997.7 698.1V717.4M2001.2 671.0V707.1M2008.3 659.4V701.9M2010.1 649.0V690.3M2011.9 591.0V661.9M2013.7 509.2V619.4M2019.0 651.6V772.9M2020.8 615.5V674.8M2022.6 574.2V627.1M2024.3 576.8V641.3M2026.1 587.1V623.2M2029.7 570.3V628.4M2031.4 524.6V575.5M2033.2 536.8V561.3M2038.6 606.5V645.2M2040.3 601.3V631.0M2047.4 629.7V645.2M2051.0 637.4V656.8M2052.8 637.4V655.5M2054.6 624.5V642.6M2056.3 619.4V632.3M2061.7 612.4V631.0M2067.0 618.1V631.0M2068.8 597.9V621.9M2070.6 596.1V618.1M2074.1 610.3V625.8M2081.2 625.8V651.6M2083.0 618.1V650.3M2084.8 611.6V632.3M2086.6 612.4V623.7M2090.1 598.7V625.8M2099.0 615.5V634.8M2100.8 618.1V624.5M2107.9 627.1V642.6M2109.7 620.6V637.4M2111.4 620.6V633.5M2115.0 621.9V634.8M2116.8 618.1V629.7M2118.6 616.8V623.2M2122.1 610.3V620.6M2123.9 610.3V618.1M2132.8 606.5V631.0M2134.6 539.4V607.7M2136.3 538.1V570.3M2138.1 538.1V563.9M2141.7 557.4V584.5M2143.4 544.5V567.7M2145.2 499.9V552.3M2147.0 500.6V530.3M2155.9 522.6V534.2M2157.7 517.4V536.8M2159.4 512.3V526.5M2161.2 495.5V517.4M2164.8 482.6V543.7M2173.7 485.2V514.8M2175.4 485.2V520.0M2182.6 529.0V591.7M2184.3 518.7V561.3M2186.1 513.5V545.8M2187.9 499.4V543.2M2198.6 526.5V547.1M2200.3 517.4V536.8M2212.8 579.4V621.9M2214.6 561.3V594.8M2221.7 631.0V696.8M2223.4 609.0V633.5M2227.0 600.0V631.0M2228.8 597.9V620.6M2230.6 583.2V607.7M2234.1 580.1V606.5M2237.7 585.8V612.9M2239.4 534.2V605.2M2241.2 399.4V400.4M2243.0 367.1V443.2M2244.8 334.8V396.8M2248.3 338.7V385.2M2250.1 327.1V358.1M2255.4 325.8V359.4M2259.0 309.0V367.1M2260.8 292.3V329.7M2262.6 275.5V327.1M2266.1 267.7V319.4M2267.9 275.5V319.4M2269.7 254.8V298.7M2273.2 262.6V301.3M2278.6 267.7V288.4M2280.3 267.2V285.8M2287.4 343.9V412.3M2289.2 298.7V354.2M2296.3 321.9V363.2M2305.2 333.5V358.1M2315.9 399.4V456.1M2317.7 360.6V416.1M2319.4 324.0V377.4M2324.8 301.3V394.2M2326.6 294.8V328.4M2331.9 319.4V381.3M2333.7 296.6V334.8M2335.4 297.4V319.4M2339.0 298.7V336.1M2340.8 276.0V320.6M2342.6 278.1V306.5M2346.1 281.7V331.0M2347.9 281.9V343.9M2349.7 280.6V342.6M2355.0 298.7V341.0M2363.9 376.1V377.4M2365.7 358.1V430.3M2367.4 346.5V401.9M2369.2 332.3V371.0M2374.6 374.8V420.0M2378.1 367.1V414.8M2379.9 360.6V381.3M2381.7 356.8V396.8M2383.4 342.6V380.0M2390.6 310.3V351.6M2392.3 288.4V316.8M2394.1 296.1V310.3M2395.9 296.1V309.0M2397.7 280.6V307.7M2399.4 281.9V306.5M2403.0 279.4V300.0M2406.6 279.4V291.0M2408.3 254.8V288.4M2410.1 234.2V265.2M2411.9 197.5V245.8M2413.7 196.8V240.6M2415.4 161.2V229.0M2424.3 189.0V214.8M2426.1 180.0V205.8M2436.8 227.5V307.5M2440.3 207.9V279.4M2443.9 236.5V272.6M2445.7 214.6V256.6M2449.2 208.1V240.4M2451.0 196.8V226.5M2452.8 180.5V214.8M2456.3 171.0V218.7M2459.9 178.7V203.2M2463.4 169.2V201.9M2468.8 191.6V212.3M2470.6 190.3V208.4M2472.3 185.2V208.4M2477.7 213.5V246.6M2479.4 194.2V221.3M2483.0 181.3V204.5M2484.8 182.6V190.3M2486.6 152.9V189.0M2490.1 205.8V229.0M2491.9 194.2V213.5M2493.7 156.3V196.8" stroke="#089981" stroke-width="2" fill="none"/>
<path d="M1247.4 1334.2V1341.0M1252.8 1047.7V1341.0M1254.6 1295.5V1341.0M1256.3 1296.8V1341.0M1261.7 1330.3V1341.0M1270.6 1320.0V1341.0M1272.3 1314.8V1341.0M1277.7 1207.7V1307.1M1279.4 1263.2V1341.0M1281.2 1330.3V1341.0M1286.6 1301.9V1341.0M1288.3 1312.3V1341.0M1293.7 1241.3V1307.1M1299.0 1131.6V1212.9M1300.8 1181.9V1234.8M1302.6 1223.2V1263.2M1307.9 1170.3V1232.3M1311.4 1178.1V1242.6M1318.6 1151.0V1220.6M1320.3 1151.0V1209.0M1322.1 1169.0V1209.0M1323.9 1167.7V1238.7M1329.2 1101.9V1178.1M1332.8 1121.8V1200.0M1334.6 1170.3V1254.2M1336.3 1214.2V1314.8M1338.1 1225.8V1307.1M1339.9 1296.8V1341.0M1350.6 1229.7V1322.6M1352.3 1256.8V1341.0M1354.1 1321.3V1341.0M1355.9 1312.3V1341.0M1361.2 1326.5V1341.0M1368.3 1308.4V1341.0M1380.8 1312.3V1327.7M1382.6 1313.5V1341.0M1386.1 1311.0V1338.1M1389.7 1303.2V1325.2M1400.3 1232.3V1256.8M1402.1 1235.4V1261.9M1403.9 1245.2V1265.8M1411.0 1181.9V1203.9M1412.8 1193.5V1219.4M1414.6 1203.9V1206.5M1416.3 1232.3V1273.5M1418.1 1256.8V1335.5M1419.9 1283.9V1323.9M1430.6 1210.3V1211.3M1437.7 1161.3V1223.2M1439.4 1167.7V1209.0M1441.2 1180.6V1216.8M1446.6 1184.5V1210.3M1448.3 1202.6V1232.3M1450.1 1207.7V1237.4M1451.9 1215.5V1252.9M1453.7 1224.5V1251.6M1455.4 1240.0V1252.9M1462.6 1219.4V1241.3M1464.3 1227.1V1245.2M1466.1 1241.3V1273.5M1467.9 1246.5V1265.8M1471.4 1247.7V1268.4M1473.2 1245.2V1268.4M1476.8 1241.3V1267.1M1480.3 1245.2V1264.5M1483.9 1247.7V1265.8M1485.7 1246.5V1265.8M1489.2 1251.6V1265.8M1494.6 1238.7V1273.5M1496.3 1255.5V1277.4M1498.1 1260.6V1295.5M1499.9 1261.9V1285.2M1503.4 1263.2V1277.4M1505.2 1263.2V1277.4M1512.3 1255.5V1273.5M1515.9 1241.8V1260.6M1519.4 1234.8V1280.0M1523.0 1247.7V1265.8M1528.3 1259.4V1280.0M1531.9 1237.4V1252.9M1533.7 1247.7V1273.5M1535.4 1258.1V1273.5M1539.0 1263.2V1271.0M1540.8 1267.1V1281.3M1546.1 1246.5V1258.1M1549.7 1240.0V1251.6M1551.4 1245.2V1258.1M1553.2 1251.6V1259.4M1556.8 1246.5V1264.5M1558.6 1260.6V1313.5M1560.3 1278.7V1320.0M1562.1 1281.3V1312.3M1567.4 1263.2V1282.6M1571.0 1269.7V1289.0M1578.1 1185.8V1242.6M1579.9 1211.6V1258.1M1583.4 1210.3V1243.9M1585.2 1215.5V1242.6M1594.1 1152.3V1187.1M1595.9 1171.6V1201.3M1601.2 1167.2V1184.5M1603.0 1170.3V1185.8M1606.6 1163.9V1178.1M1608.3 1169.0V1187.1M1613.7 1125.9V1178.1M1615.4 1131.6V1176.8M1620.8 1028.4V1230.2M1622.6 1075.3V1111.5M1631.4 1081.8V1119.2M1636.8 1084.4V1111.5M1638.6 1105.0V1131.6M1651.0 917.9V981.1M1654.6 914.0V959.2M1658.1 924.4V954.0M1661.7 917.9V946.3M1667.0 883.1V937.3M1675.9 766.2V818.5M1681.2 700.4V778.5M1683.0 739.8V843.8M1690.1 720.5V746.3M1693.7 690.8V776.7M1697.2 678.4V728.2M1700.8 611.1V683.1M1704.3 619.1V663.7M1711.4 609.0V679.7M1713.2 630.2V670.2M1715.0 646.9V699.8M1718.6 621.1V690.8M1720.3 658.5V773.4M1722.1 730.8V1033.5M1729.2 726.2V776.0M1731.0 765.6V843.8M1736.3 774.7V795.3M1738.1 785.0V845.6M1741.7 737.3V768.2M1745.2 763.1V798.4M1754.1 674.0V721.8M1757.7 566.9V736.5M1759.4 708.1V801.8M1761.2 752.0V1184.5M1763.0 850.8V961.8M1764.8 908.9V1150.2M1768.3 892.1V996.9M1770.1 969.5V996.9M1771.9 1030.2V1228.9M1773.7 1169.5V1341.0M1777.2 1177.3V1341.0M1780.8 1043.1V1136.0M1782.6 1081.8V1197.9M1787.9 1003.1V1074.0M1791.4 1061.1V1099.8M1793.2 1061.1V1110.2M1795.0 1094.7V1132.1M1798.6 1094.7V1163.1M1811.0 792.7V867.6M1812.8 843.1V872.7M1819.9 689.0V779.8M1823.4 743.7V779.8M1832.3 751.5V977.3M1841.2 726.2V856.0M1850.1 734.7V774.7M1853.7 702.9V752.7M1855.4 724.4V781.1M1859.0 724.4V781.1M1862.6 723.8V765.6M1864.3 754.0V795.3M1866.1 786.3V812.9M1869.7 795.3V854.7M1873.2 825.8V852.1M1875.0 818.0V872.7M1878.6 822.4V887.7M1882.1 803.1V861.1M1887.4 819.8V861.9M1891.0 830.2V865.5M1894.6 840.5V879.2M1898.1 834.0V867.6M1912.3 755.3V792.7M1914.1 724.4V795.3M1917.7 736.0V766.9M1919.4 757.9V786.3M1926.6 665.0V790.2M1933.7 714.0V739.8M1937.2 668.9V703.7M1940.8 671.5V707.6M1942.6 667.6V725.6M1947.9 663.2V702.4M1949.7 696.0V741.1M1951.4 711.5V734.7M1955.0 708.9V746.3M1956.8 728.2V754.0M1958.6 736.0V760.5M1962.1 746.3V763.1M1963.9 721.3V755.3M1965.7 741.1V761.8M1972.8 725.6V737.3M1974.6 723.1V738.5M1976.3 737.3V757.9M1978.1 738.5V759.2M1985.2 683.1V715.3M1987.0 715.3V739.8M1988.8 717.4V740.6M1999.4 695.0V717.4M2003.0 671.0V708.4M2004.8 685.2V707.1M2006.6 678.7V713.5M2017.2 470.2V713.5M2027.9 576.8V634.8M2035.0 541.2V602.6M2036.8 576.8V665.8M2042.1 603.9V633.5M2043.9 615.5V643.9M2045.7 618.1V640.0M2049.2 629.7V656.8M2058.1 620.6V633.5M2059.9 621.9V632.3M2063.4 616.8V630.5M2065.2 623.2V631.0M2072.3 597.9V625.8M2075.9 603.9V620.6M2077.7 612.9V627.1M2079.4 614.2V631.0M2088.3 618.1V625.8M2091.9 597.9V612.9M2093.7 601.3V615.5M2095.4 607.7V620.6M2097.2 615.5V637.4M2102.6 618.1V643.9M2104.3 631.0V652.9M2106.1 634.8V652.9M2113.2 627.1V634.8M2120.3 615.5V631.0M2125.7 612.9V620.6M2127.4 609.0V620.6M2129.2 615.5V625.8M2131.0 616.8V624.5M2139.9 543.2V579.4M2148.8 513.0V529.0M2150.6 516.1V541.9M2152.3 522.6V553.5M2154.1 522.6V532.9M2163.0 499.4V539.4M2166.6 478.7V509.7M2168.3 482.6V501.9M2170.1 485.2V511.0M2171.9 496.8V522.1M2177.2 483.9V516.1M2179.0 499.4V547.1M2180.8 513.5V539.4M2189.7 487.7V520.0M2191.4 512.3V526.5M2193.2 503.2V526.5M2195.0 514.8V526.5M2196.8 514.8V540.6M2202.1 517.4V538.1M2203.9 526.5V539.4M2205.7 526.5V549.7M2207.4 538.1V556.1M2209.2 549.7V602.6M2211.0 578.1V651.6M2216.3 565.2V609.0M2218.1 592.3V621.9M2219.9 621.9V680.0M2225.2 618.1V633.5M2232.3 594.8V612.9M2235.9 593.5V612.9M2246.6 337.4V395.5M2251.9 318.1V342.6M2253.7 320.6V360.6M2257.2 293.5V294.5M2264.3 280.6V327.1M2271.4 244.0V311.6M2275.0 263.1V301.3M2276.8 263.9V294.8M2282.1 271.6V315.5M2283.9 271.6V306.5M2285.7 303.9V416.1M2291.0 298.7V400.6M2292.8 303.9V400.6M2294.6 298.2V354.2M2298.1 323.2V363.2M2299.9 325.8V365.8M2301.7 333.5V354.2M2303.4 332.3V385.2M2307.0 331.0V363.2M2308.8 325.0V354.2M2310.6 347.7V378.7M2312.3 368.4V443.2M2314.1 405.8V443.2M2321.2 333.5V382.6M2323.0 359.4V399.4M2328.3 289.7V314.2M2330.1 303.9V304.9M2337.2 306.5V307.5M2344.3 284.5V337.4M2351.4 243.2V343.9M2353.2 294.8V345.2M2356.8 298.7V340.0M2358.6 325.8V412.3M2360.3 409.7V474.7M2362.1 430.3V476.8M2371.0 336.1V363.2M2372.8 355.5V413.5M2376.3 383.9V421.3M2385.2 333.5V354.2M2387.0 319.4V352.9M2388.8 325.8V352.9M2401.2 283.2V306.5M2404.8 280.1V300.0M2417.2 159.9V190.3M2419.0 160.6V212.3M2420.8 178.7V212.3M2422.6 187.7V213.5M2427.9 191.6V216.1M2429.7 203.2V223.9M2431.4 213.5V266.5M2433.2 218.7V267.7M2435.0 227.7V265.2M2438.6 249.7V292.3M2442.1 225.9V226.9M2447.4 193.7V238.8M2454.6 180.0V220.0M2458.1 167.1V203.2M2461.7 178.7V205.8M2465.2 177.4V207.1M2467.0 187.7V218.7M2474.1 194.2V226.5M2475.9 214.8V235.5M2481.2 187.7V212.3M2488.3 181.3V235.5M2495.4 155.5V189.0M2497.2 155.5V185.2M2499.0 179.2V187.7" stroke="#f23645" stroke-width="2" fill="none"/>
</g>
<path d="M21 188H2542" stroke="#f23645" stroke-width="2" stroke-dasharray="2 4" fill="none"/>
<!-- icons -->
<g>
<circle cx="2499" cy="1317" r="22.6" fill="#131722"/>
<circle cx="2499" cy="1317" r="19.5" fill="#131722" stroke="#ab47bc" stroke-width="3.3"/>
<path d="M2500.6 1305.6L2490.4 1317.8H2498L2492.3 1328.2L2508 1314.9H2500.5L2505.5 1305.6Z" fill="#ab47bc"/>
<circle cx="2517.3" cy="1316.1" r="23" fill="#131722"/>
<circle cx="2517.3" cy="1316.1" r="20" fill="#131722" stroke="#f23645" stroke-width="3.4"/>
<clipPath id="fc"><circle cx="2517.2" cy="1316" r="16.1"/></clipPath>
<g clip-path="url(#fc)">
<rect x="2500" y="1299" width="36" height="34" fill="#f5f5f7"/>
<rect x="2500" y="1299.5" width="36" height="7.3" fill="#ef5350"/>
<rect x="2500" y="1312.6" width="36" height="7.3" fill="#ef5350"/>
<rect x="2500" y="1325.2" width="36" height="8" fill="#ef5350"/>
<rect x="2500" y="1299" width="21" height="20.9" fill="#1e88e5"/>
<path d="M2505.60 1302.30L2506.12 1303.69L2507.60 1303.75L2506.44 1304.67L2506.83 1306.10L2505.60 1305.28L2504.37 1306.10L2504.76 1304.67L2503.60 1303.75L2505.08 1303.69ZM2510.90 1302.30L2511.42 1303.69L2512.90 1303.75L2511.74 1304.67L2512.13 1306.10L2510.90 1305.28L2509.67 1306.10L2510.06 1304.67L2508.90 1303.75L2510.38 1303.69ZM2516.20 1302.30L2516.72 1303.69L2518.20 1303.75L2517.04 1304.67L2517.43 1306.10L2516.20 1305.28L2514.97 1306.10L2515.36 1304.67L2514.20 1303.75L2515.68 1303.69ZM2505.60 1307.80L2506.12 1309.19L2507.60 1309.25L2506.44 1310.17L2506.83 1311.60L2505.60 1310.78L2504.37 1311.60L2504.76 1310.17L2503.60 1309.25L2505.08 1309.19ZM2510.90 1307.80L2511.42 1309.19L2512.90 1309.25L2511.74 1310.17L2512.13 1311.60L2510.90 1310.78L2509.67 1311.60L2510.06 1310.17L2508.90 1309.25L2510.38 1309.19ZM2516.20 1307.80L2516.72 1309.19L2518.20 1309.25L2517.04 1310.17L2517.43 1311.60L2516.20 1310.78L2514.97 1311.60L2515.36 1310.17L2514.20 1309.25L2515.68 1309.19ZM2505.60 1312.90L2506.12 1314.29L2507.60 1314.35L2506.44 1315.27L2506.83 1316.70L2505.60 1315.88L2504.37 1316.70L2504.76 1315.27L2503.60 1314.35L2505.08 1314.29ZM2510.90 1312.90L2511.42 1314.29L2512.90 1314.35L2511.74 1315.27L2512.13 1316.70L2510.90 1315.88L2509.67 1316.70L2510.06 1315.27L2508.90 1314.35L2510.38 1314.29ZM2516.20 1312.90L2516.72 1314.29L2518.20 1314.35L2517.04 1315.27L2517.43 1316.70L2516.20 1315.88L2514.97 1316.70L2515.36 1315.27L2514.20 1314.35L2515.68 1314.29Z" fill="#fff"/>
</g>
</g>
<!-- TradingView logo -->
<g fill="#131722">
<path d="M20.1 1422.1H35.6V1441.5H27.8V1429.9H20.1Z"/>
<circle cx="42.3" cy="1426.4" r="4.4"/>
<path d="M50.8 1422.1H59.1L51 1441.5H42.5Z"/>
</g>
</svg>
<div class="legend"><span style="left:35.6px;letter-spacing:0.35px">Bitcoin / U.S. Dollar, 30, BINANCE</span><span style="left:428.5px;letter-spacing:0.97px">O<b class="r">73350.46</b></span><span style="left:570.7px;letter-spacing:0.99px">H<b class="r">73406.65</b></span><span style="left:711px;letter-spacing:0.56px">L<b class="r">73207.86</b></span><span style="left:843px;letter-spacing:0.56px">C<b class="r">73251.45</b></span><span class="r" style="left:979.7px;letter-spacing:0.52px">−105.58 (−0.14%)</span></div>
<div class="pl" style="top:108.0px">74000.00</div>
<div class="pl" style="top:282.7px">72000.00</div>
<div class="pl" style="top:371.9px">71000.00</div>
<div class="pl" style="top:462.3px">70000.00</div>
<div class="pl" style="top:554.1px">69000.00</div>
<div class="pl" style="top:628.4px">68200.00</div>
<div class="pl" style="top:703.7px">67400.00</div>
<div class="pl" style="top:779.8px">66600.00</div>
<div class="pl" style="top:856.8px">65800.00</div>
<div class="pl" style="top:929.9px">65050.00</div>
<div class="pl" style="top:1008.8px">64250.00</div>
<div class="pl" style="top:1088.7px">63450.00</div>
<div class="pl" style="top:1149.3px">62850.00</div>
<div class="pl" style="top:1210.5px">62250.00</div>
<div class="pl" style="top:1272.2px">61650.00</div>
<div style="position:absolute;left:2542px;top:54.5px;width:147.5px;height:67.2px;background:#000"></div>
<div class="usd"><span>USD</span></div>
<div class="plab"><div class="p">73251.45</div><div class="t">24:31</div></div>
<div class="tl" style="left:108.4px">16</div>
<div class="tl" style="left:364.4px">19</div>
<div class="tl" style="left:535.0px">21</div>
<div class="tl" style="left:705.7px">23</div>
<div class="tl" style="left:961.7px">26</div>
<div class="tl" style="left:1132.4px">28</div>
<div class="tl b" style="left:1303.0px">Mar</div>
<div class="tl" style="left:1559.0px">4</div>
<div class="tl" style="left:1729.7px">6</div>
<div class="tl" style="left:1900.3px">8</div>
<div class="tl" style="left:2156.3px">11</div>
<div class="tl" style="left:2327.0px">13</div>
<div class="brand">TradingView</div>
</body>
</html>
